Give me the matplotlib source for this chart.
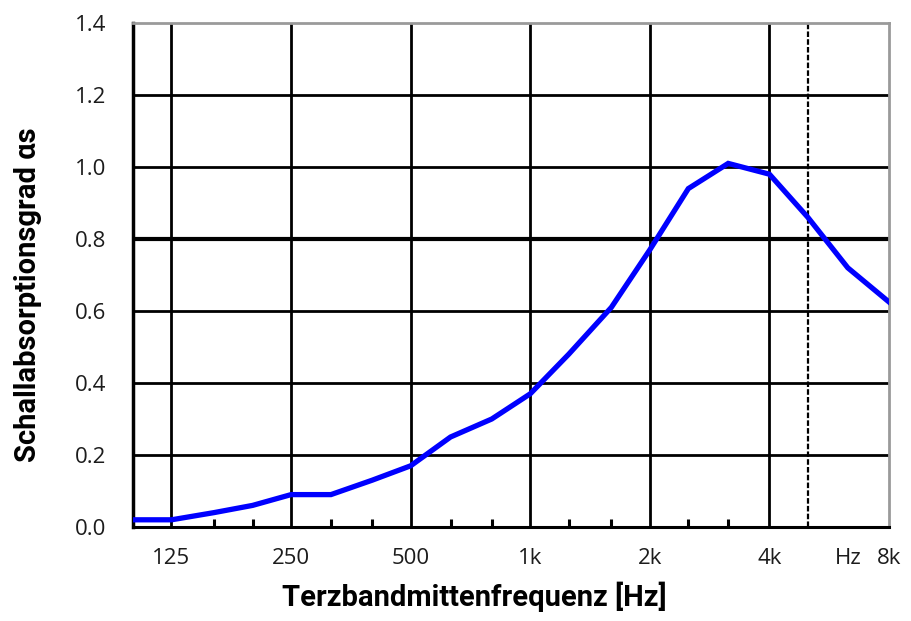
import numpy as np
import matplotlib
matplotlib.use("Agg")
import matplotlib.pyplot as plt
from matplotlib.ticker import FixedLocator, NullFormatter

# Terzband-Mittenfrequenzen und Schallabsorptionsgrad
freq = [100, 125, 160, 200, 250, 315, 400, 500, 630, 800,
        1000, 1250, 1600, 2000, 2500, 3150, 4000, 5000, 6300, 8000]
alpha = [0.02, 0.02, 0.04, 0.06, 0.09, 0.09, 0.13, 0.17, 0.25, 0.30,
         0.37, 0.48, 0.61, 0.77, 0.94, 1.01, 0.98, 0.86, 0.72, 0.625]

octave_lines = [125, 250, 500, 1000, 2000, 4000]
dashed_line = 5000
label_pos = [125, 250, 500, 1000, 2000, 4000, 6300, 8000]
label_txt = ["125", "250", "500", "1k", "2k", "4k", "Hz", "8k"]
small_ticks = [160, 200, 315, 400, 630, 800, 1250, 1600, 2500, 3150, 6300, 8000]
y_ticks = [0.0, 0.2, 0.4, 0.6, 0.8, 1.0, 1.2, 1.4]

fig = plt.figure(figsize=(9.12, 6.21), dpi=100)
ax = fig.add_axes([133 / 912, 1 - 527 / 621, 756 / 912, 504 / 621])

ax.set_xscale("log")
ax.set_xlim(100, 8000)
ax.set_ylim(0, 1.4)

for y in y_ticks[1:-1]:
    ax.axhline(y, color="black", lw=3.0 if y == 0.8 else 2.0, zorder=1)
for f in octave_lines:
    ax.axvline(f, color="black", lw=2.0, zorder=1)
ax.axvline(dashed_line, color="black", lw=1.6, ls=(0, (2.5, 1)), zorder=1)

ax.plot(freq, alpha, color="#0000ff", lw=3.8, zorder=3, solid_joinstyle="miter")

ax.xaxis.set_major_locator(FixedLocator(label_pos))
ax.set_xticklabels(label_txt)
ax.xaxis.set_minor_locator(FixedLocator(small_ticks))
ax.xaxis.set_minor_formatter(NullFormatter())
ax.tick_params(axis="x", which="major", length=0, pad=15)
ax.tick_params(axis="x", which="minor", direction="in", length=6, width=2.2, color="black")
ax.set_yticks(y_ticks)
ax.set_yticklabels([f"{v:.1f}" for v in y_ticks])
ax.tick_params(axis="y", length=0, pad=19)
for lab in ax.get_xticklabels() + ax.get_yticklabels():
    lab.set_fontfamily("Open Sans")
    lab.set_fontsize(16)
    lab.set_color("#1c1c1c")

ax.spines["left"].set_linewidth(2.5)
ax.spines["bottom"].set_linewidth(2.2)
ax.spines["top"].set_color("#9a9a9a")
ax.spines["right"].set_color("#9a9a9a")
ax.spines["top"].set_linewidth(2)
ax.spines["right"].set_linewidth(2)

ax.set_xlabel("Terzbandmittenfrequenz [Hz]", fontfamily="Roboto", fontweight="bold",
              fontsize=21, labelpad=9)
ax.set_ylabel("Schallabsorptionsgrad αs", fontfamily="Roboto", fontweight="bold",
              fontsize=21, labelpad=24)
# Achsentitel sitzen im Original nicht mittig
ax.xaxis.label.set_x(0.452)
ax.yaxis.label.set_y(0.46)

fig.savefig("out.png", dpi=100)
